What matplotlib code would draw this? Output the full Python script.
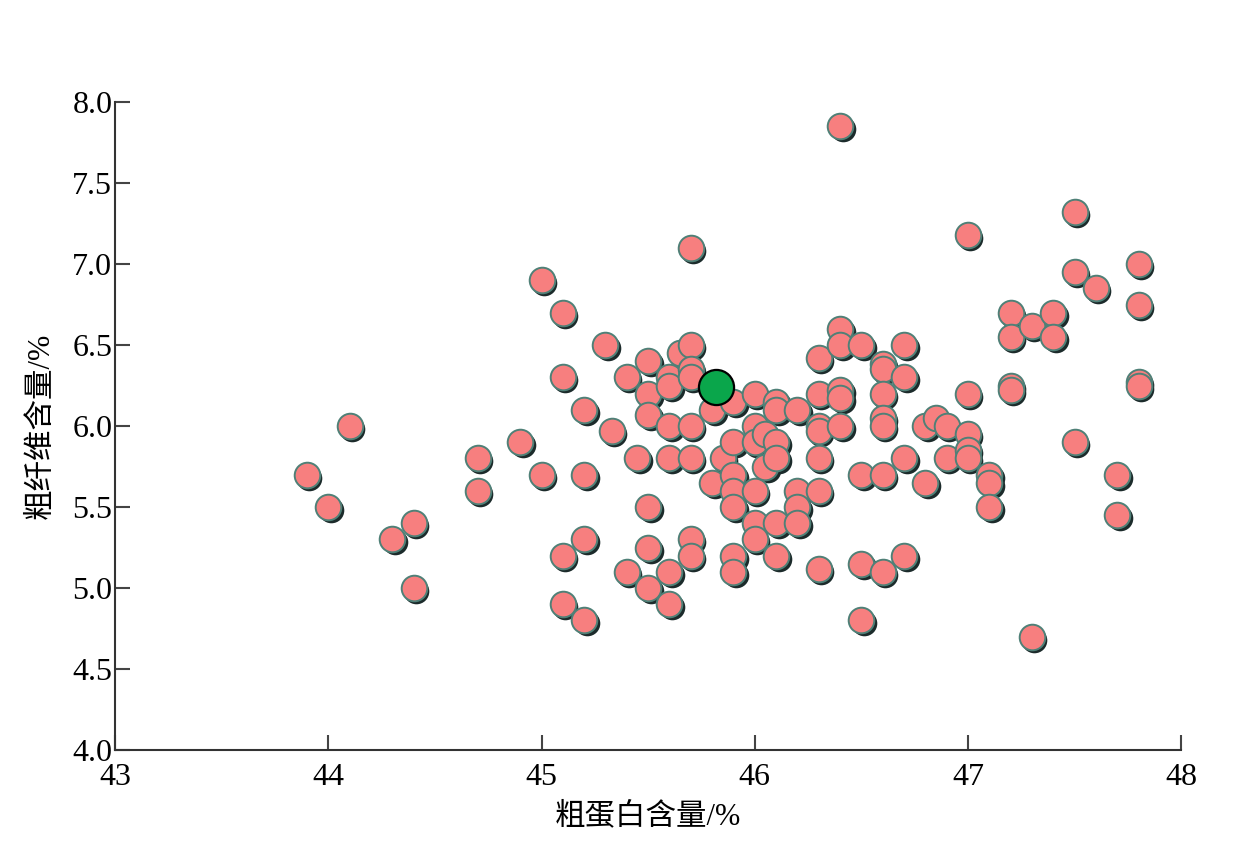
import numpy as np
import matplotlib
matplotlib.use('Agg')
import matplotlib.pyplot as plt
import matplotlib.transforms as mtransforms

plt.rcParams['font.family'] = ['Liberation Serif', 'Noto Sans CJK SC']

# crude protein (%) and crude fibre (%) of each sample
protein = [43.9, 44.0, 44.1, 44.3, 44.4, 44.4, 44.7, 44.7, 44.9, 45.0,
           45.0, 45.1, 45.1, 45.1, 45.1, 45.2, 45.2, 45.2, 45.2, 45.3,
           45.33, 45.4, 45.4, 45.45, 45.5, 45.5, 45.5, 45.5, 45.5, 45.5,
           45.6, 45.6, 45.6, 45.6, 45.6, 45.6, 45.65, 45.7, 45.7, 45.7,
           45.7, 45.7, 45.7, 45.7, 45.7, 45.8, 45.8, 45.85, 45.9, 45.9,
           45.9, 45.9, 45.9, 45.9, 45.9, 46.0, 46.0, 46.0, 46.0, 46.0,
           46.0, 46.05, 46.05, 46.1, 46.1, 46.1, 46.1, 46.1, 46.1, 46.2,
           46.2, 46.2, 46.2, 46.3, 46.3, 46.3, 46.3, 46.3, 46.3, 46.3,
           46.4, 46.4, 46.4, 46.4, 46.4, 46.4, 46.5, 46.5, 46.5, 46.5,
           46.6, 46.6, 46.6, 46.6, 46.6, 46.6, 46.6, 46.7, 46.7, 46.7,
           46.7, 46.8, 46.8, 46.85, 46.9, 46.9, 47.0, 47.0, 47.0, 47.0,
           47.0, 47.1, 47.1, 47.1, 47.2, 47.2, 47.2, 47.2, 47.3, 47.3,
           47.4, 47.4, 47.5, 47.5, 47.5, 47.6, 47.7, 47.7, 47.8, 47.8,
           47.8, 47.8]
fibre = [5.7, 5.5, 6.0, 5.3, 5.4, 5.0, 5.8, 5.6, 5.9, 6.9,
         5.7, 6.7, 6.3, 5.2, 4.9, 6.1, 5.7, 5.3, 4.8, 6.5,
         5.97, 6.3, 5.1, 5.8, 6.4, 6.2, 6.07, 5.5, 5.25, 5.0,
         6.3, 6.25, 6.0, 5.8, 5.1, 4.9, 6.45, 6.5, 6.35, 6.3,
         7.1, 6.0, 5.8, 5.3, 5.2, 6.1, 5.65, 5.8, 6.15, 5.9,
         5.7, 5.6, 5.5, 5.2, 5.1, 6.2, 6.0, 5.9, 5.6, 5.4,
         5.3, 5.75, 5.95, 6.15, 6.1, 5.9, 5.8, 5.4, 5.2, 6.1,
         5.6, 5.5, 5.4, 6.42, 6.2, 6.0, 5.97, 5.8, 5.6, 5.12,
         7.85, 6.6, 6.5, 6.22, 6.17, 6.0, 6.5, 5.7, 5.15, 4.8,
         6.38, 6.35, 6.2, 6.05, 6.0, 5.7, 5.1, 6.5, 6.3, 5.8,
         5.2, 6.0, 5.65, 6.05, 6.0, 5.8, 7.18, 6.2, 5.95, 5.85,
         5.8, 5.7, 5.65, 5.5, 6.7, 6.55, 6.25, 6.22, 6.62, 4.7,
         6.7, 6.55, 7.32, 6.95, 5.9, 6.85, 5.7, 5.45, 7.0, 6.75,
         6.27, 6.25]

# highlighted sample (mean point)
center_x = [45.82]
center_y = [6.24]

x_ticks = [43, 44, 45, 46, 47, 48]
y_ticks = [4.0, 4.5, 5.0, 5.5, 6.0, 6.5, 7.0, 7.5, 8.0]

fig = plt.figure(figsize=(12.33, 8.56), dpi=100)
ax = fig.add_axes([0.0933, 0.1238, 0.8647, 0.757])

# drop shadow under each marker
shadow = mtransforms.offset_copy(ax.transData, fig=fig, x=2.5, y=-3, units='dots')
ax.scatter(protein, fibre, s=340, color='#1c2b2b', linewidths=0,
           transform=shadow, zorder=2, clip_on=False)
ax.scatter(protein, fibre, s=340, facecolor='#f77f7f', edgecolor='#4f8077',
           linewidths=1.4, zorder=3, clip_on=False)
ax.scatter(center_x, center_y, s=640, facecolor='#0aa64b', edgecolor='black',
           linewidths=1.6, zorder=4)

ax.set_xlim(43, 48)
ax.set_ylim(4.0, 8.0)
ax.set_xticks(x_ticks)
ax.set_yticks(y_ticks)
ax.set_yticklabels([f'{v:.1f}' for v in y_ticks])

for side in ['top', 'right']:
    ax.spines[side].set_visible(False)
for side in ['left', 'bottom']:
    ax.spines[side].set_color('#333333')
    ax.spines[side].set_linewidth(1.5)

ax.tick_params(axis='both', direction='in', length=11, width=1.5,
               color='#444444', labelsize=23, pad=2)
ax.tick_params(axis='x', pad=9)

ax.set_xlabel('粗蛋白含量/%', fontsize=22, labelpad=8)
ax.set_ylabel('粗纤维含量/%', fontsize=22, labelpad=12)

plt.savefig('out.png', dpi=100)
plt.close()
